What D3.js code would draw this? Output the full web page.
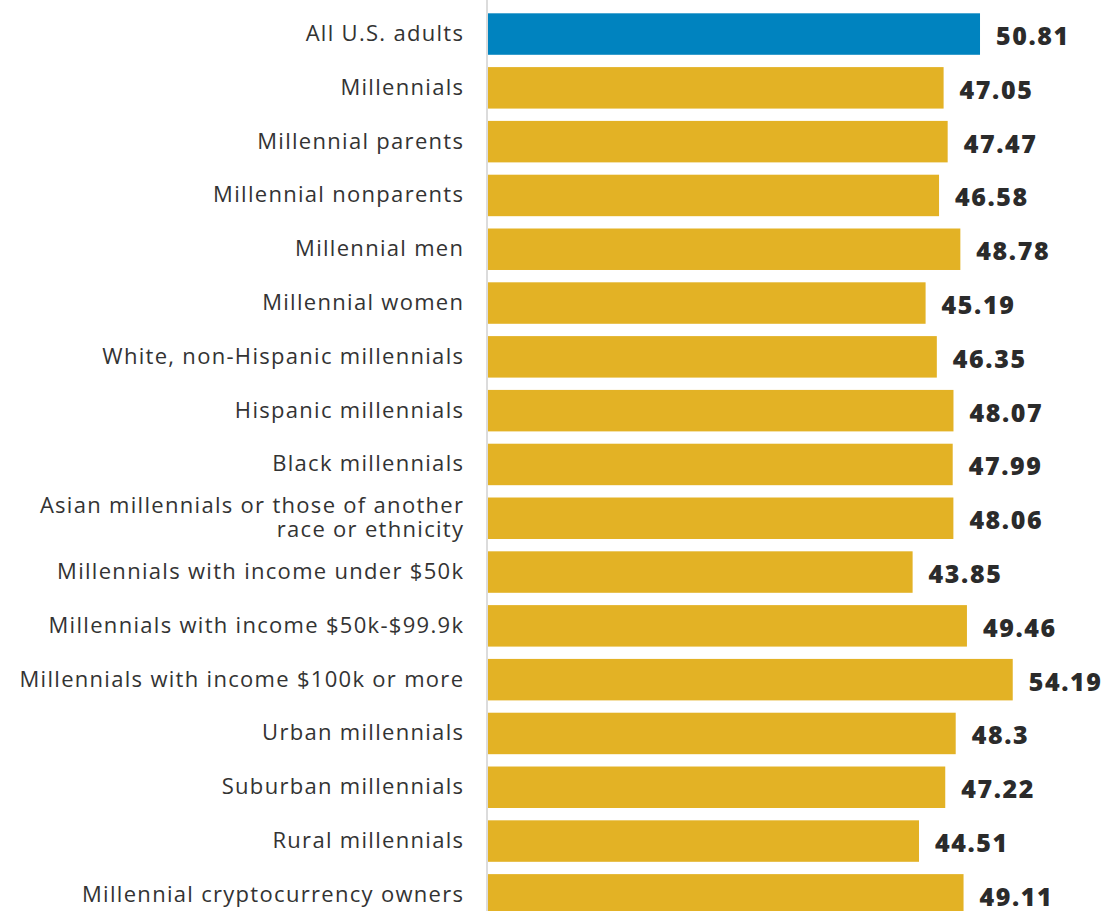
<!DOCTYPE html>
<html>
<head>
<meta charset="utf-8">
<script src="https://cdn.jsdelivr.net/npm/d3@7"></script>
<style>
  html, body { margin: 0; padding: 0; background: #fff; }
  svg { display: block; }
</style>
</head>
<body>
<div id="chart"></div>
<script>
// Groups shown on the left, top to bottom
const categories = [
  "All U.S. adults",
  "Millennials",
  "Millennial parents",
  "Millennial nonparents",
  "Millennial men",
  "Millennial women",
  "White, non-Hispanic millennials",
  "Hispanic millennials",
  "Black millennials",
  "Asian millennials or those of another\nrace or ethnicity",
  "Millennials with income under $50k",
  "Millennials with income $50k-$99.9k",
  "Millennials with income $100k or more",
  "Urban millennials",
  "Suburban millennials",
  "Rural millennials",
  "Millennial cryptocurrency owners"
];

// Score for each group
const values = [50.81, 47.05, 47.47, 46.58, 48.78, 45.19, 46.35, 48.07, 47.99, 48.06,
                43.85, 49.46, 54.19, 48.3, 47.22, 44.51, 49.11];

// Value labels as printed
const valueLabels = ["50.81", "47.05", "47.47", "46.58", "48.78", "45.19", "46.35", "48.07", "47.99", "48.06",
                     "43.85", "49.46", "54.19", "48.3", "47.22", "44.51", "49.11"];

const width = 1104, height = 911;
const x0 = 488;
const blue = "#0083bf", gold = "#e3b225";
const font = "'Open Sans', Lato, sans-serif";

const data = categories.map((c, i) => ({ cat: c, value: values[i], label: valueLabels[i], idx: i }));

const svg = d3.select("#chart").append("svg")
  .attr("width", width).attr("height", height);

const x = d3.scaleLinear().domain([0, 60]).range([x0, x0 + 581]);
const y = d3.scaleBand()
  .domain(categories)
  .range([13.3, 915.6])
  .paddingInner(0.229)
  .paddingOuter(0);

// Baseline rule
svg.append("line")
  .attr("x1", x0 - 1).attr("x2", x0 - 1)
  .attr("y1", 0).attr("y2", height)
  .attr("stroke", "#dcdcdc").attr("stroke-width", 2);

// Bars
svg.selectAll("rect.bar").data(data).join("rect")
  .attr("class", "bar")
  .attr("x", x(0))
  .attr("y", d => y(d.cat))
  .attr("width", d => x(d.value) - x(0))
  .attr("height", y.bandwidth())
  .attr("fill", d => d.idx === 0 ? blue : gold);

// Value labels
svg.selectAll("text.val").data(data).join("text")
  .attr("class", "val")
  .attr("x", d => x(d.value) + 16)
  .attr("y", d => y(d.cat) + y.bandwidth() / 2 + 11)
  .attr("font-family", font)
  .attr("font-weight", 800)
  .attr("font-size", 25)
  .attr("letter-spacing", "1.6px")
  .attr("fill", "#2b2b2b")
  .text(d => d.label);

// Category labels (right-aligned, multi-line where needed)
const catText = svg.selectAll("text.cat").data(data).join("text")
  .attr("class", "cat")
  .attr("text-anchor", "end")
  .attr("font-family", font)
  .attr("font-size", 22)
  .attr("letter-spacing", "1.3px")
  .attr("fill", "#333");

catText.each(function(d) {
  const lines = d.cat.split("\n");
  const cy = y(d.cat) + y.bandwidth() / 2;
  const lh = 24;
  const t = d3.select(this);
  lines.forEach((ln, k) => {
    t.append("tspan")
      .attr("x", 464.3)
      .attr("y", cy + 7 + (k - (lines.length - 1) / 2) * lh)
      .text(ln);
  });
});
</script>
</body>
</html>
